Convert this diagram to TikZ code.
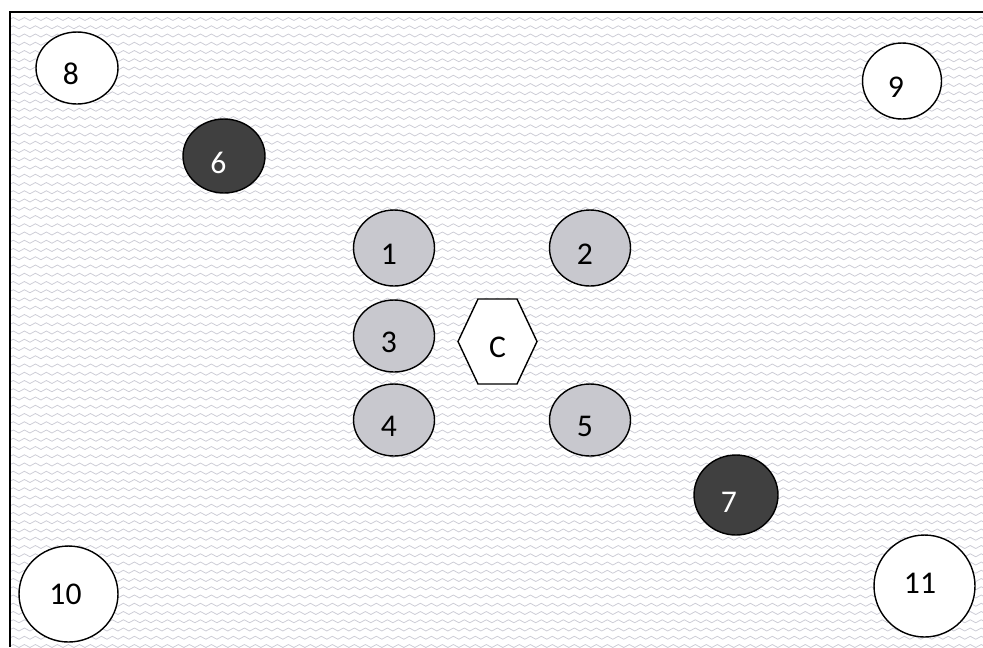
\documentclass[tikz,border=0pt]{standalone}
\usepackage{fontspec}
\setmainfont{Carlito}
\usepackage{tikz}
\usetikzlibrary{shapes.geometric,decorations.pathmorphing}
\definecolor{grisBulle}{RGB}{200,200,206}
\definecolor{grisFonce}{RGB}{64,64,64}
\definecolor{grisVague}{RGB}{205,205,214}

\begin{document}
\begin{tikzpicture}[x=0.02cm,y=-0.02cm,
  font=\fontsize{18}{21}\selectfont,
  bulle/.style={ellipse,draw=black,line width=0.8pt,inner sep=0pt},
  claire/.style={bulle,fill=white},
  moyenne/.style={bulle,fill=grisBulle},
  sombre/.style={bulle,fill=grisFonce},
  vague/.style={grisVague,line width=0.45pt,
                decorate,decoration={snake,segment length=0.22cm,amplitude=0.03cm}}]

  \useasboundingbox (0,0) rectangle (983,647);

  % fond ondule
  \begin{scope}
    \clip (10,12) rectangle (983,647);
    \foreach \r in {0,...,77} {
      \draw[vague] (10,{19+8.25*\r}) -- (1150,{19+8.25*\r});
    }
  \end{scope}
  \draw[line width=1.2pt] (983,12) -- (10,12) -- (10,647);

  % bulles du coin
  \node[claire,minimum width=1.64cm,minimum height=1.44cm,
        label={[shift={(-6,6)}]center:8}] (n8) at (77,68) {};
  \node[claire,minimum width=1.58cm,minimum height=1.52cm,
        label={[shift={(-6,6)}]center:9}] (n9) at (902,81) {};
  \node[claire,minimum width=1.98cm,minimum height=1.92cm,
        label={[shift={(-3,0)}]center:10}] (n10) at (68.5,594) {};
  \node[claire,minimum width=2.02cm,minimum height=2.04cm,
        label={[shift={(-4.5,-3)}]center:11}] (n11) at (924.5,586) {};

  % bulles sombres
  \node[sombre,minimum width=1.64cm,minimum height=1.48cm,
        label={[shift={(-5.5,7)},text=white]center:6}] (n6) at (224,156) {};
  \node[sombre,minimum width=1.68cm,minimum height=1.6cm,
        label={[shift={(-7,7)},text=white]center:7}] (n7) at (736,495) {};

  % bulles grises autour du centre
  \node[moyenne,minimum width=1.62cm,minimum height=1.52cm,
        label={[shift={(-5,6)}]center:1}] (n1) at (394,248) {};
  \node[moyenne,minimum width=1.62cm,minimum height=1.52cm,
        label={[shift={(-5,6)}]center:2}] (n2) at (590,248) {};
  \node[moyenne,minimum width=1.62cm,minimum height=1.44cm,
        label={[shift={(-5,6)}]center:3}] (n3) at (394,336) {};
  \node[moyenne,minimum width=1.62cm,minimum height=1.44cm,
        label={[shift={(-5,6)}]center:4}] (n4) at (394,420) {};
  \node[moyenne,minimum width=1.62cm,minimum height=1.44cm,
        label={[shift={(-5,6)}]center:5}] (n5) at (590,420) {};

  % hexagone central
  \draw[line width=0.8pt,fill=white] (458,341.5) -- (478,299) -- (517,299)
    -- (537,341.5) -- (517,384) -- (478,384) -- cycle;
  \node (hexC) at (497.5,347) {C};
\end{tikzpicture}
\end{document}
